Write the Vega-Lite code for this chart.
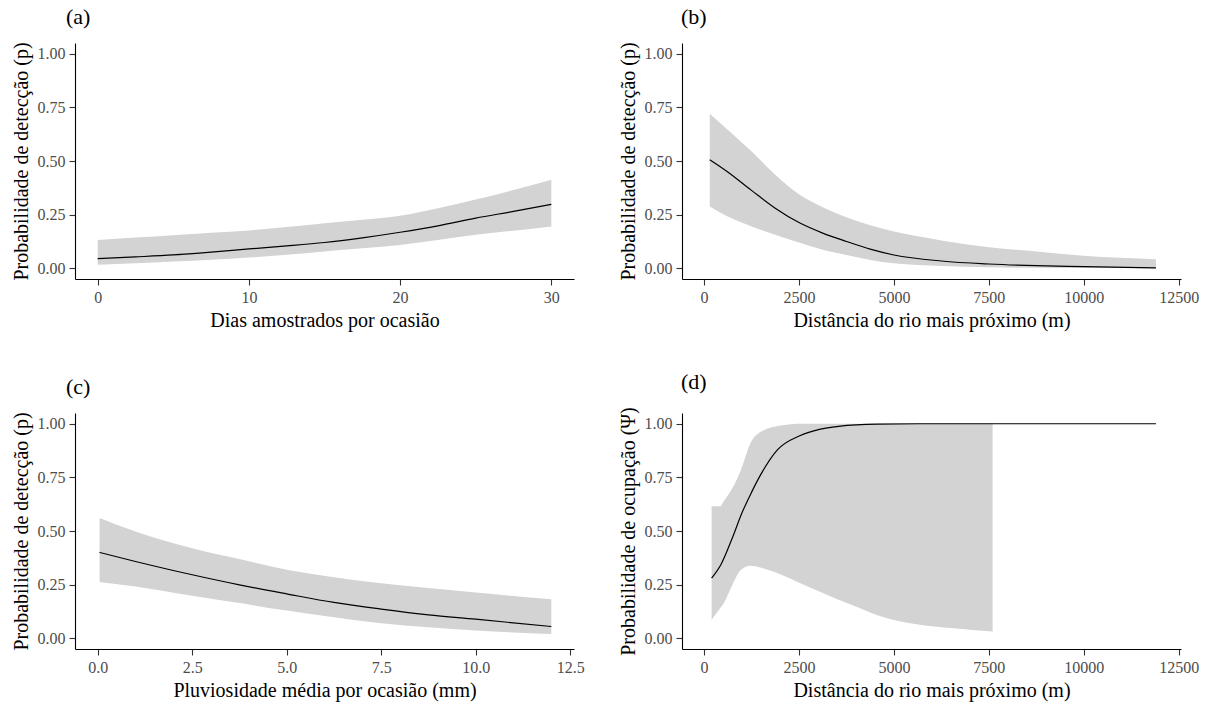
{
  "$schema": "https://vega.github.io/schema/vega-lite/v6.json",
  "padding": {"left": 10, "top": 5, "right": 5, "bottom": 5},
  "background": "white",
  "config": {
    "font": "Liberation Serif",
    "view": {"stroke": null},
    "axis": {"grid": false, "domainColor": "#000000", "domainWidth": 1.1, "tickColor": "#333333", "tickSize": 6, "tickWidth": 1.1,
      "labelFont": "Liberation Serif", "labelFontSize": 16, "labelColor": "#4d4d4d", "labelPadding": 4, "labelFlush": false, "labelOverlap": false,
      "titleFont": "Liberation Serif", "titleFontSize": 20, "titleFontWeight": "normal", "titleColor": "#000000"},
    "axisX": {"titlePadding": 5},
    "axisY": {"titlePadding": 6},
    "title": {"font": "Liberation Serif", "fontSize": 22, "fontWeight": "normal", "anchor": "start", "frame": "group", "offset": 13, "color": "#000000"}
  },
  "datasets": {
    "a": [
      {"x": 0, "y": 0.045, "lo": 0.016, "hi": 0.132},
      {"x": 2.5, "y": 0.053, "lo": 0.023, "hi": 0.143},
      {"x": 5, "y": 0.062, "lo": 0.031, "hi": 0.154},
      {"x": 7.5, "y": 0.075, "lo": 0.04, "hi": 0.165},
      {"x": 10, "y": 0.09, "lo": 0.05, "hi": 0.176},
      {"x": 12.5, "y": 0.104, "lo": 0.063, "hi": 0.192},
      {"x": 15, "y": 0.12, "lo": 0.078, "hi": 0.21},
      {"x": 17.5, "y": 0.142, "lo": 0.093, "hi": 0.226},
      {"x": 20, "y": 0.168, "lo": 0.109, "hi": 0.245},
      {"x": 22.5, "y": 0.198, "lo": 0.132, "hi": 0.28},
      {"x": 25, "y": 0.234, "lo": 0.156, "hi": 0.32},
      {"x": 27.5, "y": 0.265, "lo": 0.175, "hi": 0.365},
      {"x": 30, "y": 0.298, "lo": 0.195, "hi": 0.413}
    ],
    "b": [
      {"x": 150, "y": 0.506, "lo": 0.288, "hi": 0.72},
      {"x": 625, "y": 0.449, "lo": 0.241, "hi": 0.646},
      {"x": 1250, "y": 0.363, "lo": 0.195, "hi": 0.545},
      {"x": 1875, "y": 0.28, "lo": 0.156, "hi": 0.436},
      {"x": 2500, "y": 0.213, "lo": 0.12, "hi": 0.345},
      {"x": 3125, "y": 0.164, "lo": 0.086, "hi": 0.285},
      {"x": 3750, "y": 0.125, "lo": 0.062, "hi": 0.238},
      {"x": 4375, "y": 0.089, "lo": 0.039, "hi": 0.2},
      {"x": 5000, "y": 0.062, "lo": 0.023, "hi": 0.171},
      {"x": 6250, "y": 0.034, "lo": 0.011, "hi": 0.13},
      {"x": 7500, "y": 0.02, "lo": 0.005, "hi": 0.098},
      {"x": 8750, "y": 0.012, "lo": 0.002, "hi": 0.078},
      {"x": 10000, "y": 0.008, "lo": 0.001, "hi": 0.058},
      {"x": 11900, "y": 0.002, "lo": 0.0, "hi": 0.042}
    ],
    "c": [
      {"x": 0.05, "y": 0.4, "lo": 0.262, "hi": 0.561},
      {"x": 1, "y": 0.358, "lo": 0.241, "hi": 0.498},
      {"x": 2.5, "y": 0.296, "lo": 0.198, "hi": 0.42},
      {"x": 3.75, "y": 0.249, "lo": 0.164, "hi": 0.369},
      {"x": 5, "y": 0.207, "lo": 0.129, "hi": 0.319},
      {"x": 6.25, "y": 0.167, "lo": 0.098, "hi": 0.285},
      {"x": 7.5, "y": 0.136, "lo": 0.07, "hi": 0.257},
      {"x": 8.75, "y": 0.109, "lo": 0.051, "hi": 0.234},
      {"x": 10, "y": 0.089, "lo": 0.036, "hi": 0.213},
      {"x": 12, "y": 0.055, "lo": 0.02, "hi": 0.182}
    ],
    "dline": [
      {"x": 200, "y": 0.28},
      {"x": 450, "y": 0.345},
      {"x": 750, "y": 0.47},
      {"x": 1000, "y": 0.585},
      {"x": 1250, "y": 0.68},
      {"x": 1500, "y": 0.765},
      {"x": 1932, "y": 0.878},
      {"x": 2536, "y": 0.945},
      {"x": 3039, "y": 0.974},
      {"x": 3543, "y": 0.988},
      {"x": 4549, "y": 0.998},
      {"x": 6000, "y": 1.0},
      {"x": 11900, "y": 1.0}
    ],
    "dband": [
      {"x": 200, "lo": 0.086, "hi": 0.615},
      {"x": 423, "lo": 0.14, "hi": 0.615},
      {"x": 523, "lo": 0.164, "hi": 0.64},
      {"x": 725, "lo": 0.241, "hi": 0.693},
      {"x": 976, "lo": 0.319, "hi": 0.787},
      {"x": 1228, "lo": 0.338, "hi": 0.911},
      {"x": 1530, "lo": 0.327, "hi": 0.966},
      {"x": 2033, "lo": 0.296, "hi": 0.992},
      {"x": 2536, "lo": 0.257, "hi": 1.0},
      {"x": 3039, "lo": 0.218, "hi": 1.0},
      {"x": 3543, "lo": 0.179, "hi": 1.0},
      {"x": 4046, "lo": 0.145, "hi": 1.0},
      {"x": 4549, "lo": 0.109, "hi": 1.0},
      {"x": 5052, "lo": 0.083, "hi": 1.0},
      {"x": 5556, "lo": 0.067, "hi": 1.0},
      {"x": 6059, "lo": 0.055, "hi": 1.0},
      {"x": 6563, "lo": 0.047, "hi": 1.0},
      {"x": 7065, "lo": 0.039, "hi": 1.0},
      {"x": 7599, "lo": 0.031, "hi": 1.0}
    ]
  },
  "columns": 2,
  "spacing": {"row": 134, "column": 108},
  "bounds": "flush",
  "concat": [
    {
      "width": 499, "height": 236,
      "title": {"text": "(a)", "dx": -9},
      "data": {"name": "a"},
      "layer": [
        {"mark": {"type": "area", "color": "#d3d3d3", "opacity": 1, "interpolate": "monotone"},
         "encoding": {
           "x": {"field": "x", "type": "quantitative", "scale": {"domain": [-1.5, 31.5], "nice": false, "zero": false}, "axis": {"values": [0, 10, 20, 30], "title": "Dias amostrados por ocasião"}},
           "y": {"field": "lo", "type": "quantitative", "scale": {"domain": [-0.05, 1.05], "nice": false, "zero": false}, "axis": {"values": [0, 0.25, 0.5, 0.75, 1], "format": ".2f", "title": "Probabilidade de detecção (p)"}},
           "y2": {"field": "hi"}}},
        {"mark": {"type": "line", "color": "#000000", "strokeWidth": 1.2, "interpolate": "monotone"},
         "encoding": {
           "x": {"field": "x", "type": "quantitative", "scale": {"domain": [-1.5, 31.5], "nice": false, "zero": false}, "axis": {"values": [0, 10, 20, 30], "title": "Dias amostrados por ocasião"}},
           "y": {"field": "y", "type": "quantitative", "scale": {"domain": [-0.05, 1.05], "nice": false, "zero": false}, "axis": {"values": [0, 0.25, 0.5, 0.75, 1], "format": ".2f", "title": "Probabilidade de detecção (p)"}}}}
      ]
    },
    {
      "width": 499, "height": 236,
      "title": {"text": "(b)", "dx": -1},
      "data": {"name": "b"},
      "layer": [
        {"mark": {"type": "area", "color": "#d3d3d3", "opacity": 1, "interpolate": "monotone"},
         "encoding": {
           "x": {"field": "x", "type": "quantitative", "scale": {"domain": [-580, 12560], "nice": false, "zero": false}, "axis": {"values": [0, 2500, 5000, 7500, 10000, 12500], "format": "d", "title": "Distância do rio mais próximo (m)"}},
           "y": {"field": "lo", "type": "quantitative", "scale": {"domain": [-0.05, 1.05], "nice": false, "zero": false}, "axis": {"values": [0, 0.25, 0.5, 0.75, 1], "format": ".2f", "title": "Probabilidade de detecção (p)"}},
           "y2": {"field": "hi"}}},
        {"mark": {"type": "line", "color": "#000000", "strokeWidth": 1.2, "interpolate": "monotone"},
         "encoding": {
           "x": {"field": "x", "type": "quantitative", "scale": {"domain": [-580, 12560], "nice": false, "zero": false}, "axis": {"values": [0, 2500, 5000, 7500, 10000, 12500], "format": "d", "title": "Distância do rio mais próximo (m)"}},
           "y": {"field": "y", "type": "quantitative", "scale": {"domain": [-0.05, 1.05], "nice": false, "zero": false}, "axis": {"values": [0, 0.25, 0.5, 0.75, 1], "format": ".2f", "title": "Probabilidade de detecção (p)"}}}}
      ]
    },
    {
      "width": 499, "height": 236,
      "title": {"text": "(c)", "dx": -9},
      "data": {"name": "c"},
      "layer": [
        {"mark": {"type": "area", "color": "#d3d3d3", "opacity": 1, "interpolate": "monotone"},
         "encoding": {
           "x": {"field": "x", "type": "quantitative", "scale": {"domain": [-0.6, 12.6], "nice": false, "zero": false}, "axis": {"values": [0, 2.5, 5, 7.5, 10, 12.5], "format": ".1f", "title": "Pluviosidade média por ocasião (mm)"}},
           "y": {"field": "lo", "type": "quantitative", "scale": {"domain": [-0.05, 1.05], "nice": false, "zero": false}, "axis": {"values": [0, 0.25, 0.5, 0.75, 1], "format": ".2f", "title": "Probabilidade de detecção (p)"}},
           "y2": {"field": "hi"}}},
        {"mark": {"type": "line", "color": "#000000", "strokeWidth": 1.2, "interpolate": "monotone"},
         "encoding": {
           "x": {"field": "x", "type": "quantitative", "scale": {"domain": [-0.6, 12.6], "nice": false, "zero": false}, "axis": {"values": [0, 2.5, 5, 7.5, 10, 12.5], "format": ".1f", "title": "Pluviosidade média por ocasião (mm)"}},
           "y": {"field": "y", "type": "quantitative", "scale": {"domain": [-0.05, 1.05], "nice": false, "zero": false}, "axis": {"values": [0, 0.25, 0.5, 0.75, 1], "format": ".2f", "title": "Probabilidade de detecção (p)"}}}}
      ]
    },
    {
      "width": 499, "height": 236,
      "title": {"text": "(d)", "dx": -1},
      "layer": [
        {"data": {"name": "dband"},
         "mark": {"type": "area", "color": "#d3d3d3", "opacity": 1, "interpolate": "monotone"},
         "encoding": {
           "x": {"field": "x", "type": "quantitative", "scale": {"domain": [-580, 12560], "nice": false, "zero": false}, "axis": {"values": [0, 2500, 5000, 7500, 10000, 12500], "format": "d", "title": "Distância do rio mais próximo (m)"}},
           "y": {"field": "lo", "type": "quantitative", "scale": {"domain": [-0.05, 1.05], "nice": false, "zero": false}, "axis": {"values": [0, 0.25, 0.5, 0.75, 1], "format": ".2f", "title": "Probabilidade de ocupação (Ψ)"}},
           "y2": {"field": "hi"}}},
        {"data": {"name": "dline"},
         "mark": {"type": "line", "color": "#000000", "strokeWidth": 1.2, "interpolate": "monotone"},
         "encoding": {
           "x": {"field": "x", "type": "quantitative", "scale": {"domain": [-580, 12560], "nice": false, "zero": false}, "axis": {"values": [0, 2500, 5000, 7500, 10000, 12500], "format": "d", "title": "Distância do rio mais próximo (m)"}},
           "y": {"field": "y", "type": "quantitative", "scale": {"domain": [-0.05, 1.05], "nice": false, "zero": false}, "axis": {"values": [0, 0.25, 0.5, 0.75, 1], "format": ".2f", "title": "Probabilidade de ocupação (Ψ)"}}}}
      ]
    }
  ]
}
